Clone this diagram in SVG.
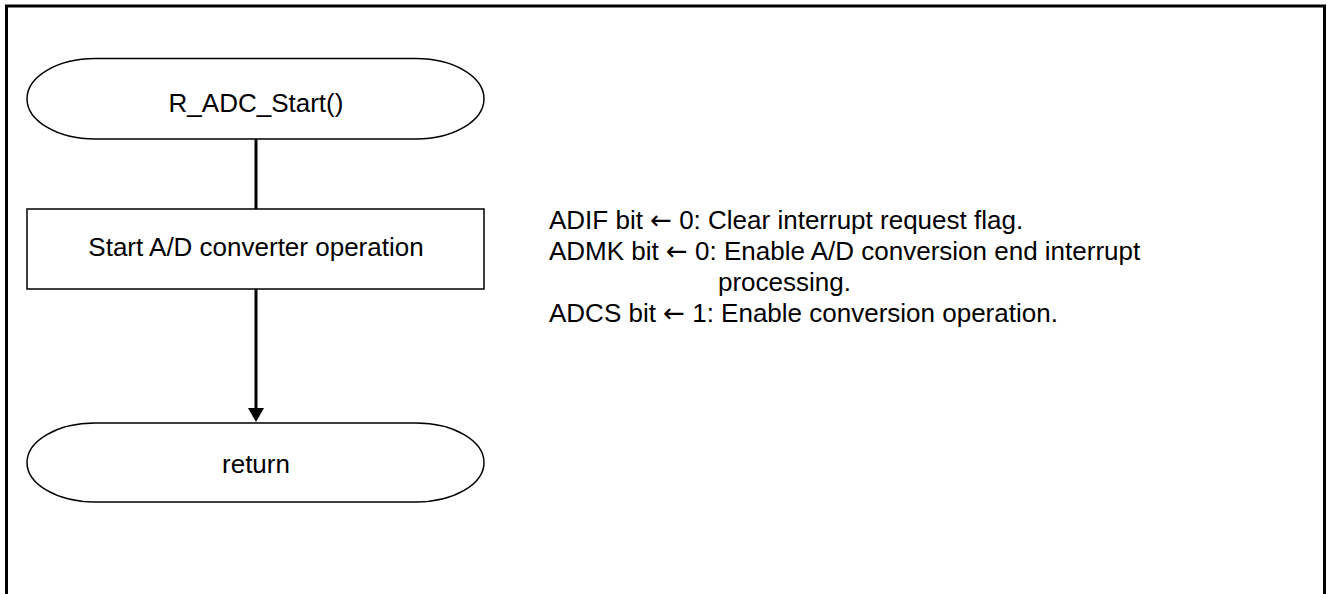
<svg xmlns="http://www.w3.org/2000/svg" width="1327" height="594" viewBox="0 0 1327 594">
<style>
.shape{fill:#fff;stroke:#000;stroke-width:1.5}
.lbl{font-family:"Liberation Sans",Arial,sans-serif;font-size:26px;fill:#000;text-anchor:middle}
.note{font-family:"Liberation Sans",Arial,sans-serif;font-size:26px;fill:#000}
.ar{font-family:"DejaVu Sans",sans-serif}
.conn{stroke:#000;stroke-width:3;fill:none}
</style>
<rect width="1327" height="594" fill="#fff"/>
<path d="M6.5,600 V6 H1324.5 V600" fill="none" stroke="#000" stroke-width="3"/>
<g id="connectors">
<line class="conn" x1="256" y1="139" x2="256" y2="209"/>
<line class="conn" x1="256" y1="289" x2="256" y2="408"/>
<path d="M248,408 L264,408 L256,422 Z" fill="#000"/>
</g>
<g id="start">
<path class="shape" d="M95,58.5 H416 A68,40.25 0 0 1 416,139 H95 A68,40.25 0 0 1 95,58.5 Z"/>
<text class="lbl" x="256" y="112">R_ADC_Start()</text>
</g>
<g id="process">
<rect class="shape" x="27" y="209" width="457" height="80"/>
<text class="lbl" x="256" y="256">Start A/D converter operation</text>
</g>
<g id="end">
<path class="shape" d="M95,423 H416 A68,39.5 0 0 1 416,502 H95 A68,39.5 0 0 1 95,423 Z"/>
<text class="lbl" x="256" y="473">return</text>
</g>
<g id="note">
<text class="note" x="549" y="229">ADIF bit <tspan class="ar">←</tspan> 0: Clear interrupt request flag.</text>
<text class="note" x="549" y="260">ADMK bit <tspan class="ar">←</tspan> 0: Enable A/D conversion end interrupt</text>
<text class="note" x="718" y="291">processing.</text>
<text class="note" x="549" y="322">ADCS bit <tspan class="ar">←</tspan> 1: Enable conversion operation.</text>
</g>
</svg>
